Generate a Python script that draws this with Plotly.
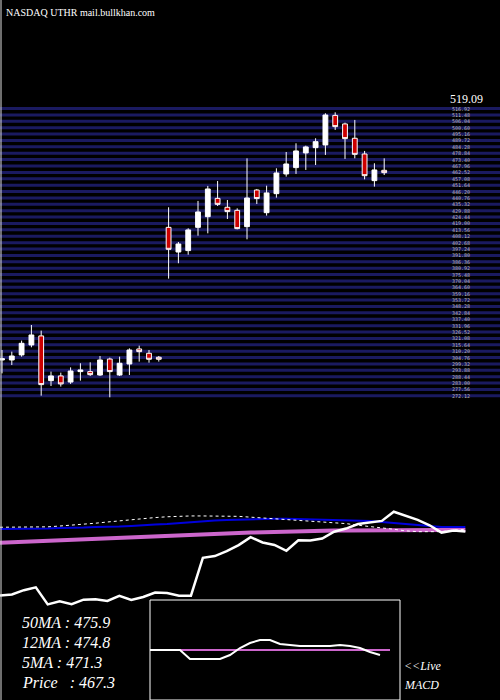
import plotly.graph_objects as go

opens  = [302.7,302.7,307.0,315.5,323.2,285.1,289.1,283.9,292.8,292.8,289.9,303.5,289.9,299.3,312.1,308.4,305.0,
          415.7,394.7,395.9,415.7,424.8,440.4,432.8,430.2,416.3,447.5,428.2,444.4,461.2,466.6,479.1,483.6,485.9,
          511.1,503.8,491.6,478.2,455.5,464.3]
highs  = [311.2,309.8,319.2,332.5,327.7,292.8,291.9,296.4,299.9,300.7,306.1,304.7,305.5,312.6,314.9,311.2,306.1,
          432.8,403.2,414.9,438.2,451.0,455.2,439.0,431.9,474.5,448.4,451.2,466.0,479.9,487.3,485.3,491.6,512.9,
          513.7,504.9,507.2,480.8,470.3,474.5]
lows   = [291.3,298.4,305.5,313.5,272.3,280.5,280.0,282.3,285.1,289.1,289.1,270.9,289.1,289.9,301.3,300.4,301.3,
          372.0,385.1,392.4,408.6,410.6,433.9,422.8,414.0,405.5,435.6,425.7,441.0,458.9,461.2,464.6,468.8,477.4,
          498.7,474.0,474.5,456.6,450.4,460.3]
closes = [303.8,306.1,316.9,324.0,281.7,289.1,282.3,293.3,294.2,290.2,302.7,292.8,299.9,311.2,309.8,303.3,303.3,
          397.0,401.5,413.5,428.8,448.4,435.3,429.1,414.6,440.7,440.2,445.0,462.0,469.7,480.8,484.2,488.7,511.4,
          501.5,491.3,477.9,459.7,464.6,462.3]
ma50 = [468.7,468.7,468.7,468.7,469.9,471.2,471.2,472.4,473.7,473.7,474.9,476.2,478.6,479.9,481.1,483.6,486.1,
        488.6,489.8,491.0,492.3,493.5,494.3,494.3,494.3,493.5,492.3,491.0,491.0,491.0,489.8,488.6,486.1,483.6,
        481.1,478.6,476.2,473.7,473.7,473.7]
ma12 = [434.7,436.0,437.3,438.5,439.8,441.0,442.3,443.5,444.8,446.0,447.2,448.4,449.6,450.8,452.0,453.2,454.4,
        455.5,456.6,457.7,458.8,459.8,460.8,461.7,462.5,463.2,463.8,464.3,464.8,465.2,465.6,465.9,466.2,466.2,
        466.2,466.2,466.2,466.2,466.2,466.2]
ma5 = [473.0,473.0,473.0,473.0,474.0,476.0,478.0,480.0,483.0,486.0,489.0,492.0,495.0,497.0,499.0,500.5,501.0,
       501.0,501.0,501.0,500.0,498.0,496.0,494.0,492.0,490.0,488.0,486.0,484.0,482.0,478.0,475.0,472.0,468.0,
       464.0,462.0,462.0,462.0,466.0,467.3]
macd = [0,0,0,0,-0.9,-0.9,-0.9,-0.9,-0.5,0.2,0.7,1.0,1.0,0.6,0.5,0.4,0.4,0.4,0.4,0.5,0.4,0.2,-0.2,-0.5]
signal = [0]*25
grid_levels = [272.12,277.56,283.00,288.44,293.88,299.32,304.76,310.20,315.64,321.08,326.52,331.96,337.40,
               342.84,348.28,353.72,359.16,364.60,370.04,375.48,380.92,386.36,391.80,397.24,402.68,408.12,
               413.56,419.00,424.44,429.88,435.32,440.76,446.20,451.64,457.08,462.52,467.96,473.40,478.84,
               484.28,489.72,495.16,500.60,506.04,511.48,516.92]
top_label = "519.09"
legend_lines = ["50MA : 475.9", "12MA : 474.8", "5MA : 471.3", "Price   : 467.3"]

idx = list(range(len(closes)))
fig = go.Figure()

for lv in grid_levels:
    fig.add_shape(type="line", xref="paper", yref="y", x0=0, x1=1, y0=lv, y1=lv,
                  line=dict(color="#1a1a60", width=3), layer="below")
    fig.add_annotation(xref="paper", yref="y", x=0.9, y=lv, text=f"{lv:.2f}", showarrow=False,
                       xanchor="left", font=dict(family="DejaVu Sans Mono", size=5, color="#bbbbbb"))
fig.add_annotation(xref="paper", yref="y", x=0.895, y=grid_levels[-1]+8, text=top_label, showarrow=False,
                   xanchor="left", font=dict(family="Liberation Serif", size=12, color="white"))

fig.add_trace(go.Candlestick(x=idx, open=opens, high=highs, low=lows, close=closes,
    increasing=dict(fillcolor="white", line=dict(color="white", width=1)),
    decreasing=dict(fillcolor="#cc0000", line=dict(color="white", width=1)),
    whiskerwidth=0, showlegend=False, xaxis="x", yaxis="y"))

fig.add_trace(go.Scatter(x=idx, y=ma12, mode="lines", line=dict(color="#cc66cc", width=4), xaxis="x2", yaxis="y3", showlegend=False))
fig.add_trace(go.Scatter(x=idx, y=ma50, mode="lines", line=dict(color="#0000dd", width=2), xaxis="x2", yaxis="y3", showlegend=False))
fig.add_trace(go.Scatter(x=idx, y=ma5, mode="lines", line=dict(color="white", width=1, dash="dot"), xaxis="x2", yaxis="y3", showlegend=False))
fig.add_trace(go.Scatter(x=idx, y=closes, mode="lines", line=dict(color="white", width=2.5), xaxis="x2", yaxis="y3", showlegend=False))

fig.add_trace(go.Scatter(x=list(range(len(signal))), y=signal, mode="lines", line=dict(color="#cc66cc", width=2), xaxis="x4", yaxis="y4", showlegend=False))
fig.add_trace(go.Scatter(x=list(range(len(macd))), y=macd, mode="lines", line=dict(color="white", width=2), xaxis="x4", yaxis="y4", showlegend=False))
fig.add_shape(type="rect", xref="paper", yref="paper", x0=150/500, x1=400/500, y0=0, y1=100/700,
              line=dict(color="white", width=1))
fig.add_shape(type="line", xref="paper", yref="paper", x0=0.002, x1=0.002, y0=0, y1=1, line=dict(color="#dddddd", width=1))

fig.add_annotation(xref="paper", yref="paper", x=4/500, y=1-5/700, text="NASDAQ UTHR mail.bullkhan.com",
                   showarrow=False, xanchor="left", font=dict(family="Liberation Serif", size=10, color="white"))
for k, t in enumerate(legend_lines):
    fig.add_annotation(xref="paper", yref="paper", x=20/500, y=1-(633+20*k)/700, text=f"<i>{t}</i>",
                       showarrow=False, xanchor="left", font=dict(family="Liberation Serif", size=16, color="white"))
fig.add_annotation(xref="paper", yref="paper", x=402/500, y=1-675/700, text="<i>&lt;&lt;Live</i>", showarrow=False,
                   xanchor="left", font=dict(family="Liberation Serif", size=12, color="white"))
fig.add_annotation(xref="paper", yref="paper", x=402/500, y=1-694/700, text="<i>MACD</i>", showarrow=False,
                   xanchor="left", font=dict(family="Liberation Serif", size=12, color="white"))

ax = dict(visible=False, showgrid=False, zeroline=False, fixedrange=True)
fig.update_layout(
    width=500, height=700, margin=dict(l=0, r=0, t=0, b=0),
    paper_bgcolor="black", plot_bgcolor="rgba(0,0,0,0)",
    xaxis=dict(ax, range=[-0.204, 50.816], rangeslider=dict(visible=False), domain=[0, 1]),
    yaxis=dict(ax, range=[13.0, 609.4], domain=[0, 1]),
    xaxis2=dict(ax, range=[0, 41.9], domain=[0, 1], anchor="y3"),
    yaxis3=dict(ax, range=[44.4, 1781], domain=[0, 1], anchor="x2"),
    xaxis4=dict(ax, range=[0, 25], domain=[0.3, 0.8], anchor="y4"),
    yaxis4=dict(ax, range=[-5, 5], domain=[0, 100/700], anchor="x4"),
)
fig.write_html("out.html", config={"displayModeBar": False},
               post_script="document.body.style.margin='0';document.body.style.background='black';")
